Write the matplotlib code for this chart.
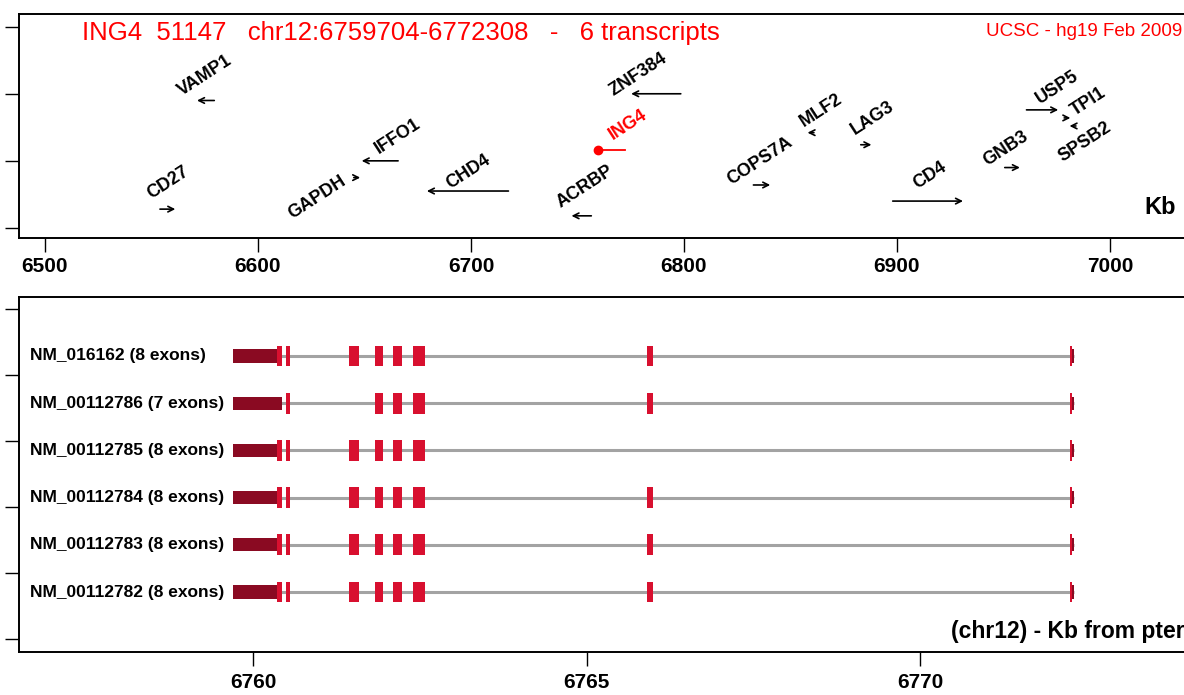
import matplotlib
matplotlib.use('Agg')
import matplotlib.pyplot as plt
import numpy as np

plt.rcParams['font.family'] = ['Liberation Sans', 'DejaVu Sans']

# neighbourhood genes (Kb from pter, hg19)
genes = ['CD27', 'VAMP1', 'GAPDH', 'IFFO1', 'CHD4', 'ACRBP', 'ING4', 'ZNF384',
         'COPS7A', 'MLF2', 'LAG3', 'CD4', 'GNB3', 'USP5', 'TPI1', 'SPSB2']
gene_start = [6554.0, 6571.4, 6645.0, 6648.7, 6679.3, 6747.2, 6759.7, 6775.2,
              6832.6, 6858.0, 6883.0, 6898.0, 6950.6, 6960.8, 6978.5, 6981.0]
gene_end = [6561.2, 6579.5, 6648.0, 6665.8, 6717.6, 6756.5, 6772.3, 6798.5,
            6840.5, 6861.0, 6888.0, 6931.0, 6957.7, 6975.7, 6981.4, 6984.0]
gene_strand = ['+', '-', '+', '-', '-', '-', '-', '-',
               '+', '-', '+', '+', '+', '+', '+', '-']
gene_row = [0.28, 1.90, 0.75, 1.00, 0.55, 0.18, 1.16, 2.00,
            0.64, 1.42, 1.24, 0.40, 0.90, 1.76, 1.64, 1.52]
# label anchor (centre) for each gene name
label_x = [6557.8, 6575.0, 6628.0, 6665.7, 6699.0, 6753.5, 6773.7, 6778.4,
           6835.7, 6864.3, 6888.7, 6915.5, 6951.0, 6975.0, 6990.0, 6988.0]
label_y = [0.67, 2.27, 0.45, 1.36, 0.84, 0.61, 1.54, 2.28,
           1.00, 1.75, 1.64, 0.79, 1.18, 2.10, 1.88, 1.28]

# ING4 transcripts
transcripts = ['NM_016162 (8 exons)', 'NM_00112786 (7 exons)', 'NM_00112785 (8 exons)',
               'NM_00112784 (8 exons)', 'NM_00112783 (8 exons)', 'NM_00112782 (8 exons)']
exon_start = [6759.704, 6760.495, 6761.43, 6761.82, 6762.10, 6762.40, 6765.90, 6772.25]
exon_end = [6760.43, 6760.555, 6761.58, 6761.945, 6762.235, 6762.58, 6765.99, 6772.308]
exon_used = [
    [1, 1, 1, 1, 1, 1, 1, 1],
    [1, 1, 0, 1, 1, 1, 1, 1],
    [1, 1, 1, 1, 1, 1, 0, 1],
    [1, 1, 1, 1, 1, 1, 1, 1],
    [1, 1, 1, 1, 1, 1, 1, 1],
    [1, 1, 1, 1, 1, 1, 1, 1],
]
utr3_end = [6760.36, 6760.43, 6760.36, 6760.36, 6760.36, 6760.36]
utr5_start = 6772.28
tx_start, tx_end = 6759.704, 6772.308

top_ticks = [6500, 6600, 6700, 6800, 6900, 7000]
bottom_ticks = [6760, 6765, 6770]

RED = '#D8102F'
DARK = '#8A0A22'
GREY = '#A3A3A3'

fig = plt.figure(figsize=(11.84, 6.95), dpi=100)
ax1 = fig.add_axes([0.016, 0.6576, 0.994, 0.3223])
ax2 = fig.add_axes([0.016, 0.0619, 0.994, 0.5108])

for ax in (ax1, ax2):
    ax.spines['right'].set_visible(False)
    for s in ('top', 'left', 'bottom'):
        ax.spines[s].set_linewidth(1.4)
    ax.tick_params(direction='out', length=10, width=1.0)

# --- top panel: gene neighbourhood
ax1.set_xlim(6487.8, 7040.3)
ax1.set_ylim(-0.15, 3.19)
ax1.set_xticks(top_ticks)
ax1.set_xticklabels([str(t) for t in top_ticks], fontsize=15, fontweight='bold')
ax1.set_yticks([0, 1, 2, 3])
ax1.set_yticklabels([])
ax1.tick_params(axis='x', pad=4)

for g, s, e, st, r, lx, ly in zip(genes, gene_start, gene_end, gene_strand,
                                  gene_row, label_x, label_y):
    col = 'red' if g == 'ING4' else 'black'
    if g == 'ING4':
        ax1.plot([s, e], [r, r], color=col, lw=1.3)
        ax1.plot([s], [r], 'o', color=col, ms=6)
    else:
        a, b = (s, e) if st == '+' else (e, s)
        ax1.annotate('', xy=(b, r), xytext=(a, r),
                     arrowprops=dict(arrowstyle='->', color=col, lw=1.2,
                                     mutation_scale=10, shrinkA=0, shrinkB=0))
    ax1.text(lx, ly, g, rotation=33, ha='center', va='center', fontsize=13,
             fontweight='bold', color=col, rotation_mode='anchor')

ax1.text(6517.4, 2.91, 'ING4  51147   chr12:6759704-6772308   -   6 transcripts',
         color='red', fontsize=18.5, ha='left', va='center')
ax1.text(7034.0, 2.93, 'UCSC - hg19 Feb 2009', color='red', fontsize=13.5,
         ha='right', va='center')
ax1.text(7023.5, 0.3, 'Kb', fontsize=17, fontweight='bold', ha='center', va='center')

# --- bottom panel: transcripts
ax2.set_xlim(6756.49, 6774.13)
ax2.set_ylim(-0.27, 7.25)
ax2.set_xticks(bottom_ticks)
ax2.set_xticklabels([str(t) for t in bottom_ticks], fontsize=15, fontweight='bold')
ax2.set_yticks(np.linspace(0, 7, 6))
ax2.set_yticklabels([])
ax2.tick_params(axis='x', pad=5)

h_exon = 0.22
h_utr = 0.14
for i, name in enumerate(transcripts):
    y = len(transcripts) - i
    ax2.plot([tx_start, tx_end], [y, y], color=GREY, lw=2.2, solid_capstyle='butt',
             zorder=1)
    for j, (a, b) in enumerate(zip(exon_start, exon_end)):
        if not exon_used[i][j]:
            continue
        if j == 0:
            ax2.fill_between([a, utr3_end[i]], y - h_utr, y + h_utr, color=DARK,
                             lw=0, zorder=2)
            if b > utr3_end[i]:
                ax2.fill_between([utr3_end[i], b], y - h_exon, y + h_exon,
                                 color=RED, lw=0, zorder=2)
        elif j == len(exon_start) - 1:
            ax2.fill_between([a, utr5_start], y - h_exon, y + h_exon, color=RED,
                             lw=0, zorder=2)
            ax2.fill_between([utr5_start, b], y - h_utr, y + h_utr, color=DARK,
                             lw=0, zorder=2)
        else:
            ax2.fill_between([a, b], y - h_exon, y + h_exon, color=RED, lw=0,
                             zorder=2)
    ax2.text(6756.66, y, name, fontsize=12.5, fontweight='bold', ha='left',
             va='center')

ax2.text(6773.96, -0.08, '(chr12) - Kb from pter', fontsize=16.5, fontweight='bold',
         ha='right', va='bottom')

fig.savefig('out.png', dpi=100)
